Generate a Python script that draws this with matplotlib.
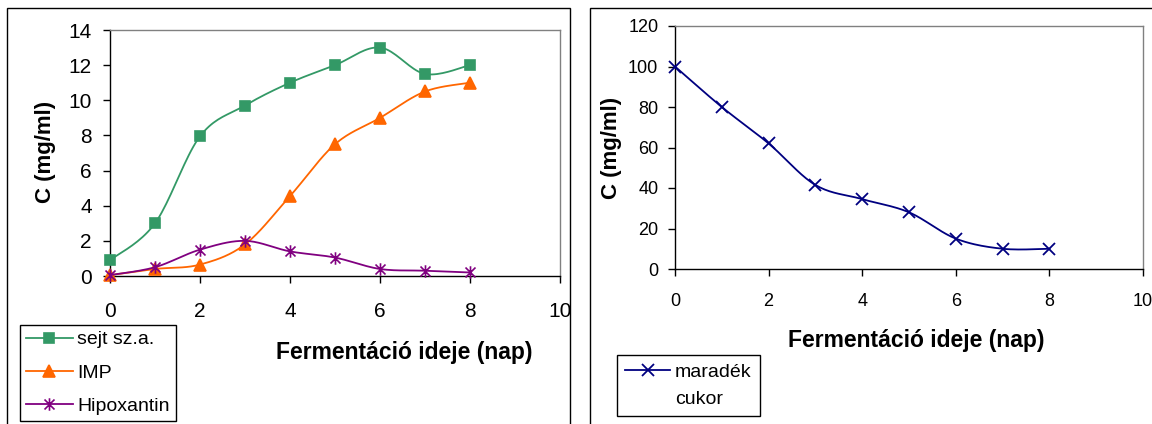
import numpy as np
import matplotlib
matplotlib.use("Agg")
import matplotlib.pyplot as plt
from matplotlib.lines import Line2D
from matplotlib.patches import Rectangle
from matplotlib.path import Path

plt.rcParams['font.family'] = ['Liberation Sans', 'DejaVu Sans']

# Fermentation time (days)
days = [0, 1, 2, 3, 4, 5, 6, 7, 8]

# Concentrations (mg/ml)
sejt = [0.9, 3.0, 7.95, 9.7, 11.0, 12.0, 13.0, 11.5, 12.0]
imp = [0.05, 0.4, 0.65, 1.8, 4.55, 7.5, 9.0, 10.5, 11.0]
hipoxantin = [0.05, 0.5, 1.5, 2.0, 1.4, 1.05, 0.4, 0.3, 0.2]
cukor = [100, 80, 62, 41.5, 34.5, 28, 15, 10, 10]

labels_left = ["sejt sz.a.", "IMP", "Hipoxantin"]
label_right = ["maradék", "cukor"]
xlabel = "Fermentáció ideje (nap)"
ylabel = "C (mg/ml)"

N = 20  # samples per smoothed segment


def smooth(x, y, n=N):
    """Spline through the points using cubic Bezier segments (Catmull-Rom tangents)."""
    p = np.column_stack([x, y]).astype(float)
    ext = np.vstack([p[0], p, p[-1]])
    out = []
    t = np.linspace(0, 1, n, endpoint=False)[:, None]
    for i in range(len(p) - 1):
        p0, p1 = ext[i + 1], ext[i + 2]
        c1 = p0 + (ext[i + 2] - ext[i]) / 6.0
        c2 = p1 - (ext[i + 3] - ext[i + 1]) / 6.0
        seg = ((1 - t) ** 3) * p0 + 3 * ((1 - t) ** 2) * t * c1 + 3 * (1 - t) * t ** 2 * c2 + t ** 3 * p1
        out.append(seg)
    out.append(p[-1][None, :])
    out = np.vstack(out)
    return out[:, 0], out[:, 1], list(range(0, len(out), n))


# asterisk marker: X with a vertical stroke
star = Path([(-1, -1), (1, 1), (-1, 1), (1, -1), (0, -1.25), (0, 1.25)],
            [Path.MOVETO, Path.LINETO, Path.MOVETO, Path.LINETO, Path.MOVETO, Path.LINETO])

W, H = 1152, 424
fig = plt.figure(figsize=(W / 100, H / 100), dpi=100)

# chart-area frames
fig.patches.append(Rectangle((7 / W, -0.1), 563 / W, 1.1 - 8 / H, transform=fig.transFigure,
                             fill=False, edgecolor='black', linewidth=1.0))
fig.patches.append(Rectangle((590 / W, -0.1), 1.0, 1.1 - 8 / H, transform=fig.transFigure,
                             fill=False, edgecolor='black', linewidth=1.0))


def style_axes(ax, tick_size):
    for s in ('left', 'bottom'):
        ax.spines[s].set_color('black')
        ax.spines[s].set_linewidth(1.0)
    for s in ('top', 'right'):
        ax.spines[s].set_color('#808080')
        ax.spines[s].set_linewidth(1.0)
    ax.tick_params(axis='both', direction='out', length=5, width=1.0, labelsize=tick_size, colors='black')


# left chart
ax1 = fig.add_axes([110 / W, 1 - 276 / H, 450 / W, 246 / H])
style_axes(ax1, 15)
ax1.tick_params(axis='x', pad=14)
ax1.tick_params(axis='y', pad=8)
ax1.set_xlim(0, 10)
ax1.set_ylim(0, 14)
ax1.set_xticks(range(0, 11, 2))
ax1.set_yticks(range(0, 15, 2))

series = [
    (sejt, '#339966', 's', 6.5, labels_left[0]),
    (imp, '#FF6600', '^', 8, labels_left[1]),
    (hipoxantin, '#800080', star, 9, labels_left[2]),
]
for vals, col, mk, ms, lab in series:
    sx, sy, idx = smooth(days, vals)
    ax1.plot(sx, sy, color=col, lw=1.3, marker=mk, markevery=idx, ms=ms,
             mfc=col, mec=col, mew=1.2, label=lab, clip_on=False, zorder=3)

ax1.text((404 - 110) / 450, (276 - 352) / 246, xlabel, transform=ax1.transAxes,
         ha='center', va='center', fontsize=16.5, fontweight='bold')
ax1.text((45 - 110) / 450, (276 - 152) / 246, ylabel, transform=ax1.transAxes,
         ha='center', va='center', rotation=90, fontsize=16, fontweight='bold')

leg1 = ax1.legend(loc='upper left', bbox_to_anchor=(20 / W, 1 - 325 / H), bbox_transform=fig.transFigure,
                  borderaxespad=0, fancybox=False, edgecolor='black', framealpha=1, fontsize=14,
                  handlelength=2.4, handletextpad=0.25, labelspacing=0.8, borderpad=0.3)
leg1.get_frame().set_linewidth(1.0)

# right chart
ax2 = fig.add_axes([675 / W, 1 - 269 / H, 468 / W, 243 / H])
style_axes(ax2, 13)
ax2.tick_params(axis='x', pad=12)
ax2.tick_params(axis='y', pad=7)
ax2.set_xlim(0, 10)
ax2.set_ylim(0, 120)
ax2.set_xticks(range(0, 11, 2))
ax2.set_yticks(range(0, 121, 20))

sx, sy, idx = smooth(days, cukor)
l2, = ax2.plot(sx, sy, color='#000080', lw=1.3, marker='x', markevery=idx, ms=8,
               mec='#000080', mew=1.3, clip_on=False, zorder=3)

ax2.text((916 - 675) / 468, (269 - 341) / 243, xlabel, transform=ax2.transAxes,
         ha='center', va='center', fontsize=16.5, fontweight='bold')
ax2.text((612 - 675) / 468, (269 - 148) / 243, ylabel, transform=ax2.transAxes,
         ha='center', va='center', rotation=90, fontsize=16, fontweight='bold')

blank = Line2D([], [], linestyle='none', marker=None)
leg2 = ax2.legend([l2, blank], label_right, loc='upper left', bbox_to_anchor=(617 / W, 1 - 355 / H),
                  bbox_transform=fig.transFigure, borderaxespad=0, fancybox=False, edgecolor='black',
                  framealpha=1, fontsize=14, handlelength=2.3, handletextpad=0.25, labelspacing=0.5,
                  borderpad=0.42)
leg2.get_frame().set_linewidth(1.0)

fig.savefig('out.png', dpi=100)
